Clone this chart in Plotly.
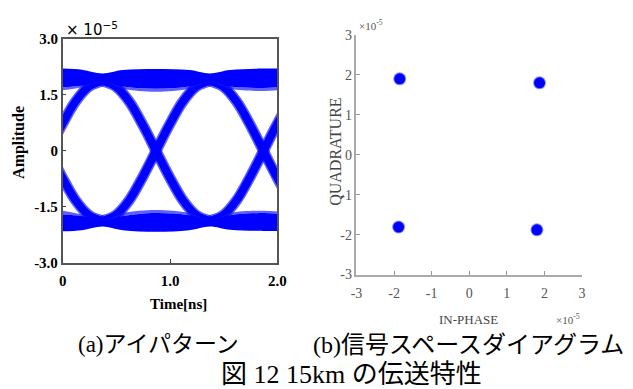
import plotly.graph_objects as go

# ---------------- (a) eye pattern, amplitudes in units of 1e-5 ----------------
# shape of one symbol transition, measured from the eye centre where it starts
transition_dt = [0.0, 0.125, 0.25, 0.375, 0.5, 0.625, 0.75, 0.875, 1.0]
transition_level = [1.87, 1.72, 1.32, 0.70, 0.0, -0.70, -1.32, -1.72, -1.87]
transition_starts = [-0.63, 0.37, 1.37]

# envelopes of the steady "1" and "0" rails
rail_time = [0.0, 0.18, 0.37, 0.56, 0.87, 1.18, 1.37, 1.56, 1.87, 2.0]
top_upper = [2.20, 2.17, 2.07, 2.16, 2.19, 2.16, 2.07, 2.16, 2.20, 2.20]
top_lower = [1.70, 1.74, 1.86, 1.72, 1.66, 1.72, 1.86, 1.72, 1.68, 1.70]
top_fringe = [1.62, 1.70, 1.85, 1.66, 1.58, 1.66, 1.85, 1.66, 1.60, 1.62]
bot_upper = [-1.70, -1.74, -1.86, -1.74, -1.66, -1.72, -1.86, -1.72, -1.66, -1.68]
bot_fringe = [-1.60, -1.70, -1.85, -1.66, -1.58, -1.66, -1.85, -1.66, -1.60, -1.62]
bot_lower = [-2.15, -2.12, -2.02, -2.12, -2.16, -2.12, -2.02, -2.11, -2.14, -2.14]

eye_xticks = [0, 1, 2]
eye_xlabels = ["0", "1.0", "2.0"]
eye_yticks = [-3, -1.5, 0, 1.5, 3]
eye_ylabels = ["-3.0", "-1.5", "0", "1.5", "3.0"]

# ---------------- (b) constellation, in units of 1e-5 ----------------
const_i = [-1.85, 1.87, -1.88, 1.80]
const_q = [1.90, 1.80, -1.81, -1.88]
const_ticks = [-3, -2, -1, 0, 1, 2, 3]

BLUE = "#0000ff"
FRINGE = "rgba(20,20,255,0.68)"
SERIF = "Liberation Serif"
CAPTION_FONT = "Liberation Serif, Noto Sans CJK JP"

W, H = 633, 389


def px(x):
    return x / W


def py(y):
    return 1 - y / H


fig = go.Figure()

# transition arcs: a lighter wide stroke under a solid core
for width, color in [(11, FRINGE), (8, BLUE)]:
    for t0 in transition_starts:
        for sign in (1, -1):
            fig.add_trace(go.Scatter(
                x=[t0 + d for d in transition_dt],
                y=[sign * v for v in transition_level],
                mode="lines", line=dict(color=color, width=width, shape="spline"),
                xaxis="x", yaxis="y", hoverinfo="skip", showlegend=False))


def band(lower, upper, color):
    fig.add_trace(go.Scatter(x=rail_time, y=lower, mode="lines",
                             line=dict(width=0, shape="spline"),
                             xaxis="x", yaxis="y", hoverinfo="skip", showlegend=False))
    fig.add_trace(go.Scatter(x=rail_time, y=upper, mode="lines", fill="tonexty",
                             fillcolor=color, line=dict(width=0, shape="spline"),
                             xaxis="x", yaxis="y", hoverinfo="skip", showlegend=False))


band(top_fringe, top_lower, FRINGE)
band(top_lower, top_upper, BLUE)
band(bot_upper, bot_fringe, FRINGE)
band(bot_lower, bot_upper, BLUE)

# constellation points
fig.add_trace(go.Scatter(x=const_i, y=const_q, mode="markers",
                         marker=dict(color="rgba(30,30,255,0.5)", size=13),
                         xaxis="x2", yaxis="y2", hoverinfo="skip", showlegend=False))
fig.add_trace(go.Scatter(x=const_i, y=const_q, mode="markers",
                         marker=dict(color=BLUE, size=11),
                         xaxis="x2", yaxis="y2", hoverinfo="skip", showlegend=False))

eye_tickfont = dict(family=SERIF, size=15, color="black", weight="bold")
const_tickfont = dict(family=SERIF, size=14, color="#555")

fig.update_layout(
    width=W, height=H, margin=dict(l=0, r=0, t=0, b=0),
    paper_bgcolor="white", plot_bgcolor="white",
    xaxis=dict(domain=[px(58), px(278)], range=[0, 2], tickvals=eye_xticks,
               ticktext=eye_xlabels, ticks="inside", ticklen=4, tickcolor="#444",
               showline=True, linecolor="#555", linewidth=1.5, mirror=True,
               ticklabelstandoff=3,
               showgrid=False, zeroline=False, tickfont=eye_tickfont, anchor="y"),
    yaxis=dict(domain=[py(266), py(32)], range=[-3, 3], tickvals=eye_yticks,
               ticktext=eye_ylabels, ticks="inside", ticklen=4, tickcolor="#444",
               showline=True, linecolor="#555", linewidth=1.5, mirror=True,
               showgrid=False, zeroline=False, tickfont=eye_tickfont, anchor="x"),
    xaxis2=dict(domain=[px(359), px(590)], range=[-3, 3], tickvals=const_ticks,
                ticktext=[str(v) for v in const_ticks], ticks="inside", ticklen=4,
                tickcolor="#999", showline=True, linecolor="#aaa", linewidth=1.5,
                ticklabelstandoff=5,
                showgrid=False, zeroline=False, tickfont=const_tickfont, anchor="y2"),
    yaxis2=dict(domain=[py(278), py(28)], range=[-3, 3], tickvals=const_ticks,
                ticktext=[str(v) for v in const_ticks], ticks="inside", ticklen=4,
                tickcolor="#999", showline=True, linecolor="#aaa", linewidth=1.5,
                showgrid=False, zeroline=False, tickfont=const_tickfont, anchor="x2"),
)

ann = [
    dict(text="<b>Amplitude</b>", x=px(14), y=py(140), textangle=-90,
         font=dict(family=SERIF, size=16, color="black")),
    dict(text="<b>Time[ns]</b>", x=px(177), y=py(309),
         font=dict(family=SERIF, size=15, color="black")),
    dict(text="× 10<sup>−5</sup>", x=px(59), y=py(22), xanchor="left",
         font=dict(family="DejaVu Sans", size=15, color="black")),
    dict(text="QUADRATURE", x=px(338), y=py(150), textangle=-90,
         font=dict(family=SERIF, size=16, color="#444")),
    dict(text="IN-PHASE", x=px(474), y=py(325),
         font=dict(family=SERIF, size=13, color="#444")),
    dict(text="×10<sup>-5</sup>", x=px(360), y=py(18), xanchor="left",
         font=dict(family=SERIF, size=11, color="#555")),
    dict(text="×10<sup>-5</sup>", x=px(576), y=py(324),
         font=dict(family=SERIF, size=11, color="#555")),
    dict(text="(a)アイパターン", x=px(156), y=py(351),
         font=dict(family=CAPTION_FONT, size=23, color="black")),
    dict(text="(b)信号スペースダイアグラム", x=px(474), y=py(351),
         font=dict(family=CAPTION_FONT, size=24, color="black")),
    dict(text="図 12 15km の伝送特性", x=px(354), y=py(382),
         font=dict(family=CAPTION_FONT, size=26, color="black")),
]
for a in ann:
    a.setdefault("xanchor", "center")
    fig.add_annotation(xref="paper", yref="paper", yanchor="middle",
                       showarrow=False, **a)

fig.write_html("out.html")
